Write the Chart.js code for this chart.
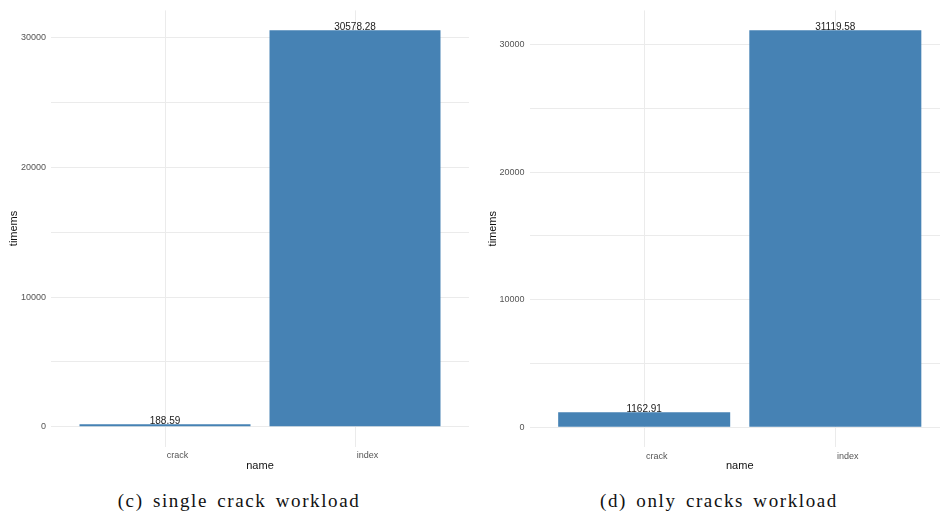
<!DOCTYPE html>
<html>
<head>
<meta charset="utf-8">
<script src="https://cdn.jsdelivr.net/npm/chart.js@4/dist/chart.umd.min.js"></script>
<style>
  html, body { margin: 0; padding: 0; background: #fff; }
  body { width: 940px; height: 514px; overflow: hidden; position: relative; }
  .panel { position: absolute; top: 0; height: 480px; }
  .caption {
    position: absolute; top: 490px; width: 470px; text-align: center;
    font-family: "Liberation Serif", "DejaVu Serif", serif; font-size: 19px;
    letter-spacing: 1.6px; word-spacing: 3px; color: #111;
  }
</style>
</head>
<body>
<div class="panel" style="left:0;width:470px"><canvas id="c1" width="470" height="480"></canvas></div>
<div class="panel" style="left:470px;width:480px"><canvas id="c2" width="480" height="480"></canvas></div>
<div class="caption" style="left:4px">(c) single crack workload</div>
<div class="caption" style="left:484px">(d) only cracks workload</div>
<script>
// Workload timings (ms) per access method
const categories = ['crack', 'index'];
const singleCrackTimes = [188.59, 30578.28];
const onlyCracksTimes = [1162.91, 31119.58];
const yTickLabels = [0, 10000, 20000, 30000];
const yGridStep = 5000; // minor lines halfway between labelled ticks

const BAR_COLOR = '#4682b4';
const GRID_COLOR = '#ebebeb';
const SANS = '"Liberation Sans", Arial, Helvetica, sans-serif';

// Value labels centred just above each bar
const valueLabels = {
  id: 'valueLabels',
  afterDatasetsDraw(chart) {
    const ctx = chart.ctx;
    const meta = chart.getDatasetMeta(0);
    const data = chart.data.datasets[0].data;
    ctx.save();
    ctx.font = '10px ' + SANS;
    ctx.fillStyle = '#1a1a1a';
    ctx.textAlign = 'center';
    ctx.textBaseline = 'alphabetic';
    meta.data.forEach((bar, i) => {
      ctx.fillText(data[i].y.toFixed(2), bar.x, bar.y - 0.5);
    });
    ctx.restore();
  }
};

function makeChart(id, values, opts) {
  const top = Math.max(...values);
  const pad = top * 0.05; // 5% expansion above and below the data range
  return new Chart(document.getElementById(id), {
    type: 'bar',
    data: {
      datasets: [{
        data: categories.map((c, i) => ({ x: i, y: values[i] })),
        backgroundColor: BAR_COLOR,
        borderWidth: 0,
        barPercentage: 0.9,
        categoryPercentage: 1.0
      }]
    },
    options: {
      responsive: false,
      animation: false,
      events: [],
      layout: { padding: { top: opts.top, right: opts.right, left: 0, bottom: 0 } },
      plugins: { legend: { display: false }, tooltip: { enabled: false } },
      scales: {
        x: {
          type: 'linear',
          min: -0.6,
          max: categories.length - 1 + 0.6,
          offset: false,
          border: { display: false },
          grid: { color: GRID_COLOR, lineWidth: 1, drawTicks: false, offset: false },
          afterBuildTicks: s => { s.ticks = categories.map((c, i) => ({ value: i })); },
          ticks: {
            autoSkip: false,
            maxRotation: 0,
            padding: 4,
            labelOffset: 12.5,
            color: '#555',
            font: { family: SANS, size: 9 },
            callback: v => categories[v] ?? ''
          },
          title: {
            display: true, text: 'name', color: '#111',
            font: { family: SANS, size: 11 },
            padding: { top: 0, bottom: 7 }
          },
          afterFit: s => { s.height = 480 - opts.bottom; }
        },
        y: {
          min: -pad,
          max: top + pad,
          border: { display: false },
          grid: { color: GRID_COLOR, lineWidth: 1, drawTicks: false },
          afterBuildTicks: s => {
            const t = [];
            for (let v = 0; v <= s.max; v += yGridStep) t.push({ value: v });
            s.ticks = t;
          },
          ticks: {
            autoSkip: false,
            padding: 5,
            color: '#555',
            font: { family: SANS, size: 9 },
            callback: v => yTickLabels.includes(v) ? String(v) : ''
          },
          title: {
            display: true, text: 'timems', color: '#111',
            font: { family: SANS, size: 11 },
            padding: { top: opts.titlePad, bottom: 0 }
          },
          afterFit: s => { s.width = opts.yWidth; }
        }
      }
    },
    plugins: [valueLabels]
  });
}

makeChart('c1', singleCrackTimes, { top: 10, right: 1, bottom: 446.5, yWidth: 51, titlePad: 7.4 });
makeChart('c2', onlyCracksTimes, { top: 8.8, right: 0, bottom: 447, yWidth: 59.5, titlePad: 16 });
</script>
</body>
</html>
